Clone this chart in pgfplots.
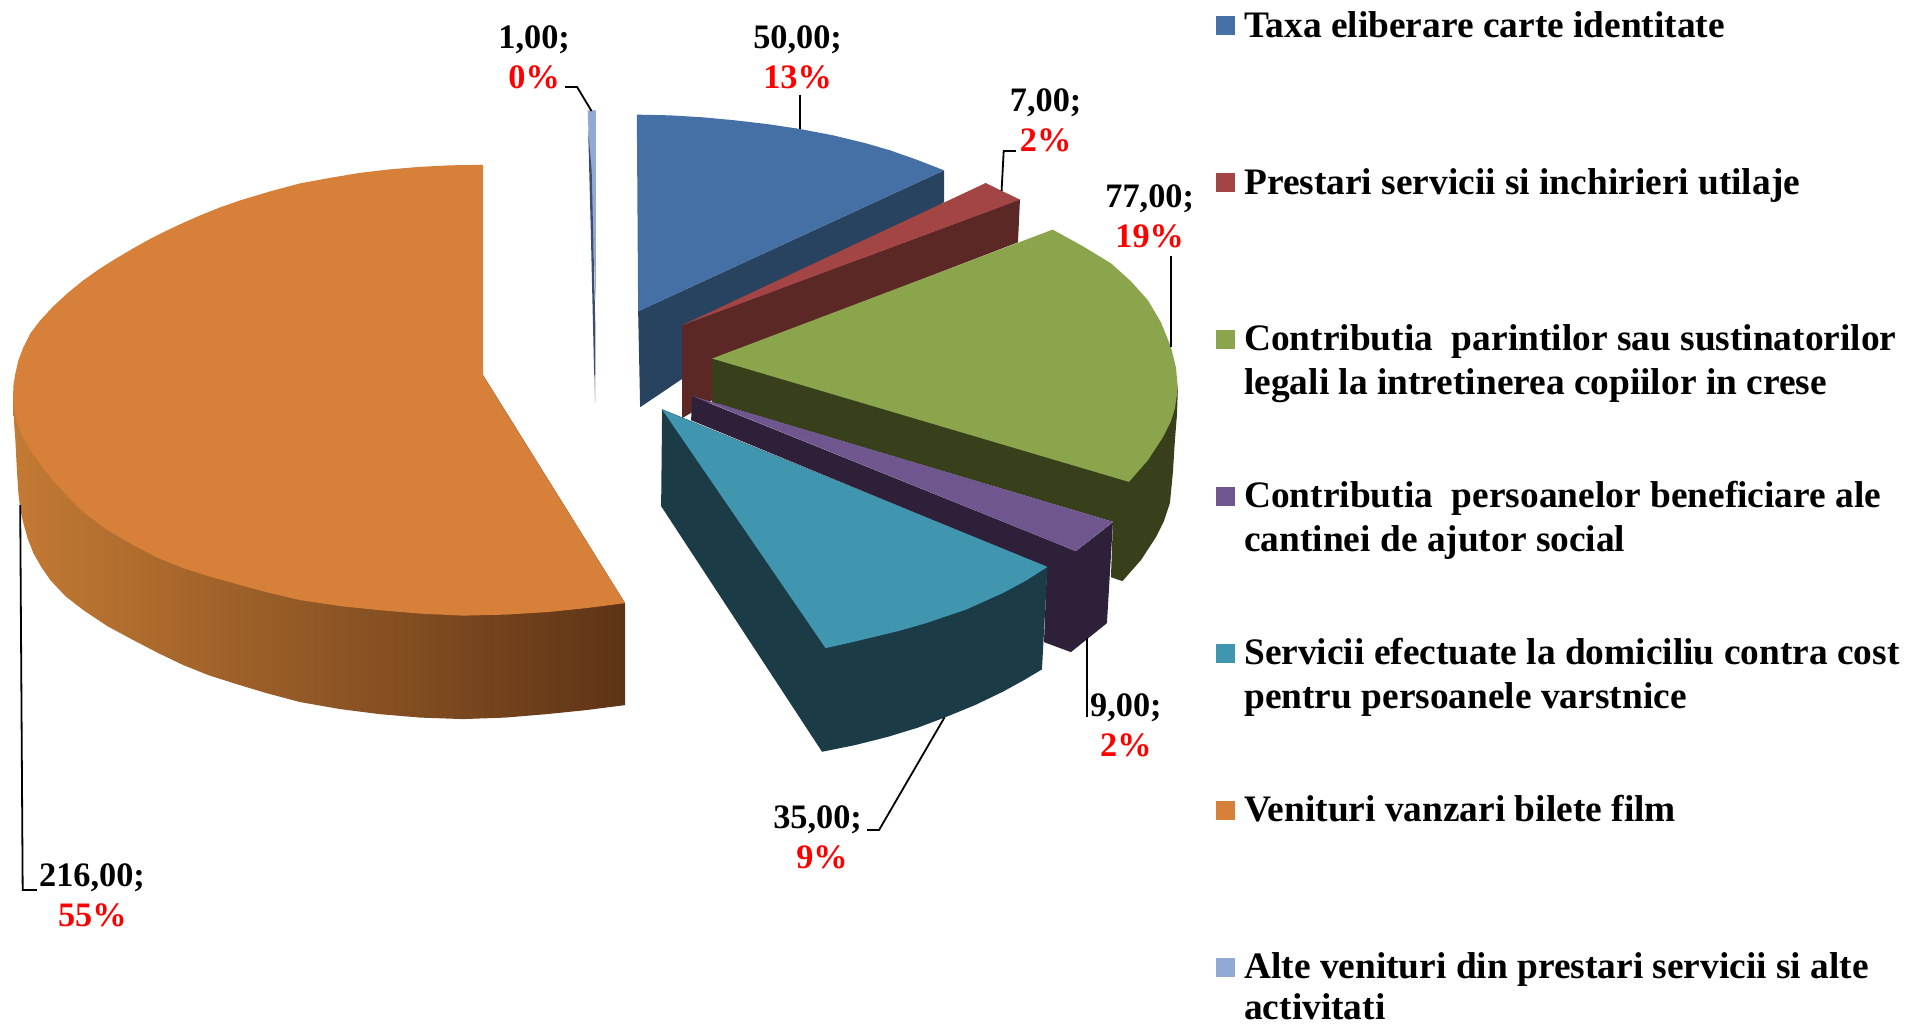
\documentclass[border=0pt]{standalone}
\usepackage{fontspec}
\setmainfont{Liberation Serif}
\usepackage{pgfplots}
\pgfplotsset{compat=1.18}
\definecolor{orangetop}{HTML}{D6803A}
\definecolor{sideA}{RGB}{195,122,52}
\definecolor{sideB}{RGB}{160,94,42}
\definecolor{sideC}{RGB}{94,52,22}
\definecolor{bluetop}{HTML}{4570A5}
\definecolor{blueside}{HTML}{27435F}
\definecolor{redtop}{HTML}{A34545}
\definecolor{redside}{HTML}{5C2826}
\definecolor{greentop}{HTML}{8AA54C}
\definecolor{greenside}{HTML}{37401B}
\definecolor{purpletop}{HTML}{70568E}
\definecolor{purpleside}{HTML}{2D2038}
\definecolor{tealtop}{HTML}{4095AF}
\definecolor{tealside}{HTML}{1B3C47}
\definecolor{ltbluetop}{HTML}{92A9D3}
\definecolor{ltblueside}{HTML}{3E4D6E}
\newcommand{\lab}[5]{%
  \node[font=\fontsize{17.15}{17}\selectfont\bfseries,anchor=base,inner sep=0pt] at (axis cs:#1,#2) {#3};
  \node[font=\fontsize{17.15}{17}\selectfont\bfseries,anchor=base,inner sep=0pt,text=red] at (axis cs:#4,#2+40) {#5};}
\newcommand{\leg}[2]{%
  \node[font=\fontsize{18.7}{18.7}\selectfont\bfseries,anchor=base west,inner sep=0pt] at (axis cs:1244,#1+1.2) {#2};}
\begin{document}
\begin{tikzpicture}
\begin{axis}[
    width=952.5pt, height=512.5pt,
    scale only axis,
    hide axis,
    clip=false,
    xmin=0, xmax=1905,
    ymin=0, ymax=1025,
    y dir=reverse,
    no markers,
]
% invisible box that holds the page size
\addplot[draw=white, opacity=0, fill=none] coordinates {(0,0) (1905,0) (1905,1025) (0,1025)} -- cycle;

% orange slice, side then top
\addplot[draw=none, left color=sideA, middle color=sideB, right color=sideC] coordinates {
 (12.7,397) (13.5,420) (15,440) (16.5,470) (18,493) (20,510) (23,523) (27.5,539) (33,553) (41,567) (50,580)
 (65,596) (83,610) (107,626) (133,640) (158,653) (183,665) (208,675) (233,683) (266,693)
 (300,702) (340,709) (379,714) (420,717.5) (463,719) (505,717.5) (547,714) (586,710) (625,705) (625,603) (483,375)} -- cycle;
\addplot[draw=none, fill=orangetop] coordinates {
 (483,164.5) (450,165) (420,166.5) (390,169) (360,172.5) (330,177.5) (300,183) (270,191) (240,200) (220,207)
 (200,215) (183,222.5) (167,230) (150,238.5) (133,248) (116,258) (100,268) (83,280) (67,293) (52,307) (40,320)
 (30,333) (23,347) (18,360) (15,373) (13,385) (12.7,397) (14,410) (16.7,423) (22,436) (30,450) (39,463) (50,477)
 (66,495) (83,512) (107,530) (133,545) (158,558) (183,568) (208,576) (233,583) (266,592) (300,600) (340,606)
 (379,610) (420,613.5) (463,615.5) (505,614.5) (547,612) (586,608) (625,603) (483,375.5)} -- cycle;

% thin light blue slice
\addplot[draw=none, fill=ltbluetop] coordinates {(587.5,110) (595.7,110) (595.6,300) (589,150)} -- cycle;
\addplot[draw=none, fill=ltblueside] coordinates {(588,130) (591.5,170) (595.3,330) (595.3,375) (594,375) (590.7,233)} -- cycle;
\addplot[draw=none, fill=gray!70] coordinates {(594,375) (595.3,375) (595.2,402) (594.8,402)} -- cycle;

% blue slice
\addplot[draw=none, fill=blueside] coordinates {(638,311) (944,170) (944,202) (640,407)} -- cycle;
\addplot[draw=none, fill=bluetop] coordinates {(636.7,114.3) (670,115) (703,117) (735,120) (767,123.7) (799,128.5) (833,135) (866,143) (890,150) (917,159.5) (944,170) (638,311)} -- cycle;

% red slice
\addplot[draw=none, fill=redside] coordinates {(682,325) (1020,199) (1018,242) (712,360) (712,400) (682,418)} -- cycle;
\addplot[draw=none, fill=redtop] coordinates {(682,325) (985.7,182.7) (1002,190.7) (1020,199.3)} -- cycle;

% green slice
\addplot[draw=none, fill=greenside] coordinates {(1178,388) (1177,415) (1175,440) (1173,472) (1170,503) (1164,521) (1156,537) (1141,560) (1122.5,581) (1111,577) (1113,521.7) (712,402) (712,358)} -- cycle;
\addplot[draw=none, fill=greentop] coordinates {(1052.7,229.3) (1083,246) (1111,263) (1131,281) (1148,300) (1161,322) (1171,346.7) (1176,367) (1178,388) (1175,408) (1171,421) (1163,437) (1148,460) (1129,481.7) (712,358.3)} -- cycle;

% purple slice
\addplot[draw=none, fill=purpleside] coordinates {(692,396) (1076,551) (1113,522) (1107,623) (1071,652) (1044,642) (1047,567) (691,420)} -- cycle;
\addplot[draw=none, fill=purpletop] coordinates {(692,395.7) (1113,521.7) (1076,551)} -- cycle;

% teal slice
\addplot[draw=none, fill=tealside] coordinates {(822,751.7) (855,745) (888,736.7) (918,727.5) (945,717.3) (975,705) (1002.7,691.7) (1024,680) (1042,669.3) (1047.5,566.7) (662,409) (661,506)} -- cycle;
\addplot[draw=none, fill=tealtop] coordinates {(1047.5,566.7) (1026,580.5) (1002.7,593) (966,609.5) (926,623) (898,631) (869,638) (848,643) (825.5,648) (662,409.3)} -- cycle;

% leader lines
\addplot[black, line width=0.9pt] coordinates {(565,86.7) (577,86.7) (591.4,110.7)};
\addplot[black, line width=0.9pt] coordinates {(799.6,95) (799.6,128.3)};
\addplot[black, line width=0.9pt] coordinates {(1016,150.7) (1003.7,150.7) (1001.6,190.7)};
\addplot[black, line width=0.9pt] coordinates {(1171,255.7) (1171,346.7)};
\addplot[black, line width=0.9pt] coordinates {(1087,638.3) (1087,716.7)};
\addplot[black, line width=0.9pt] coordinates {(944.5,717.3) (879,830) (867,830)};
\addplot[black, line width=0.9pt] coordinates {(19.8,505) (22.3,890) (36.5,890)};

% legend squares
\addplot[draw=none, fill=bluetop] coordinates {(1216,16) (1235,16) (1235,34.7) (1216,34.7)} -- cycle;
\addplot[draw=none, fill=redtop] coordinates {(1216,173) (1235,173) (1235,191.7) (1216,191.7)} -- cycle;
\addplot[draw=none, fill=greentop] coordinates {(1216,330) (1235,330) (1235,348.7) (1216,348.7)} -- cycle;
\addplot[draw=none, fill=purpletop] coordinates {(1216,487) (1235,487) (1235,505.7) (1216,505.7)} -- cycle;
\addplot[draw=none, fill=tealtop] coordinates {(1216,644) (1235,644) (1235,662.7) (1216,662.7)} -- cycle;
\addplot[draw=none, fill=orangetop] coordinates {(1216,801) (1235,801) (1235,819.7) (1216,819.7)} -- cycle;
\addplot[draw=none, fill=ltbluetop] coordinates {(1216,958) (1235,958) (1235,976.7) (1216,976.7)} -- cycle;

% data labels
\lab{534}{48.3}{1,00;}{534}{0\%}
\lab{797.5}{48.3}{50,00;}{797.5}{13\%}
\lab{1045.7}{110.7}{7,00;}{1045.7}{2\%}
\lab{1149.8}{207.3}{77,00;}{1149.8}{19\%}
\lab{1126}{716}{9,00;}{1126}{2\%}
\lab{817.5}{828.3}{35,00;}{822}{9\%}
\lab{91.7}{886}{216,00;}{92}{55\%}

% legend text
\leg{36}{Taxa eliberare carte identitate}
\leg{193}{Prestari servicii si inchirieri utilaje}
\leg{349.5}{Contributia~~parintilor sau sustinatorilor}
\leg{393.5}{legali la intretinerea copiilor in crese}
\leg{506.5}{Contributia~~persoanelor beneficiare ale}
\leg{550.5}{cantinei de ajutor social}
\leg{663}{Servicii efectuate la domiciliu contra cost}
\leg{707}{pentru persoanele varstnice}
\leg{820}{Venituri vanzari bilete film}
\leg{977}{Alte venituri din prestari servicii si alte}
\leg{1018}{activitati}
\end{axis}
\end{tikzpicture}
\end{document}
